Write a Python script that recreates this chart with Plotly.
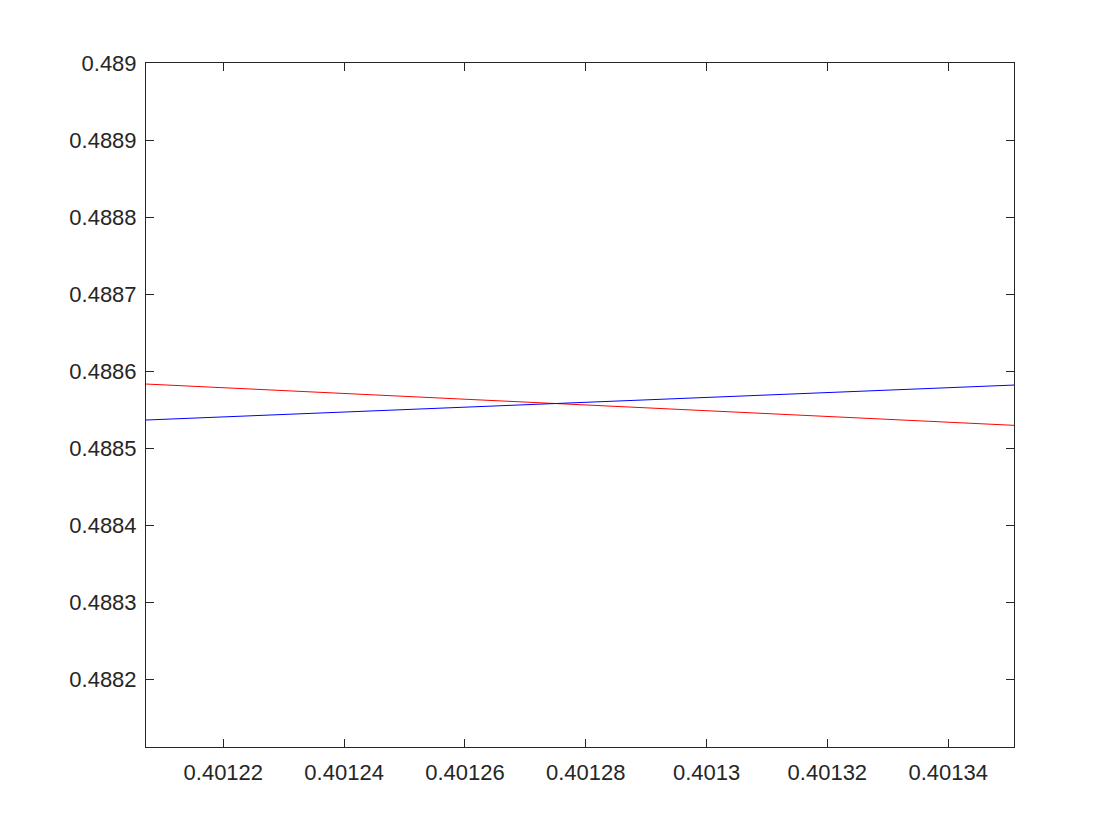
import plotly.graph_objects as go

# Data
x_vals = [0.4012072, 0.4013509]
red_y = [0.4885833, 0.4885297]
blue_y = [0.4885366, 0.4885820]

x_ticks = [0.40122, 0.40124, 0.40126, 0.40128, 0.40130, 0.40132, 0.40134]
x_tick_labels = ["0.40122", "0.40124", "0.40126", "0.40128", "0.4013", "0.40132", "0.40134"]
y_ticks = [0.4882, 0.4883, 0.4884, 0.4885, 0.4886, 0.4887, 0.4888, 0.4889, 0.4890]
y_tick_labels = ["0.4882", "0.4883", "0.4884", "0.4885", "0.4886", "0.4887", "0.4888", "0.4889", "0.489"]

x_range = [0.4012072, 0.4013509]
y_range = [0.4881122, 0.4890]

fig = go.Figure()
fig.add_trace(go.Scatter(x=x_vals, y=red_y, mode="lines",
                         line=dict(color="#ff0000", width=1), showlegend=False))
fig.add_trace(go.Scatter(x=x_vals, y=blue_y, mode="lines",
                         line=dict(color="#0000ff", width=1), showlegend=False))

axis_common = dict(
    showgrid=False, zeroline=False, showline=True, linecolor="#262626", linewidth=1,
    mirror="ticks", ticks="inside", ticklen=8, tickwidth=1, tickcolor="#262626",
    tickfont=dict(family="Liberation Sans, Arial, Helvetica, sans-serif", size=22, color="#262626"),
)

fig.update_xaxes(range=x_range, tickvals=x_ticks, ticktext=x_tick_labels,
                 ticklabelstandoff=6, **axis_common)
fig.update_yaxes(range=y_range, tickvals=y_ticks, ticktext=y_tick_labels,
                 ticklabelstandoff=4, **axis_common)

fig.update_layout(
    width=1120, height=840,
    margin=dict(l=138, r=114, t=55, b=101, autoexpand=False),
    paper_bgcolor="white", plot_bgcolor="white",
)

fig.write_html("out.html")
